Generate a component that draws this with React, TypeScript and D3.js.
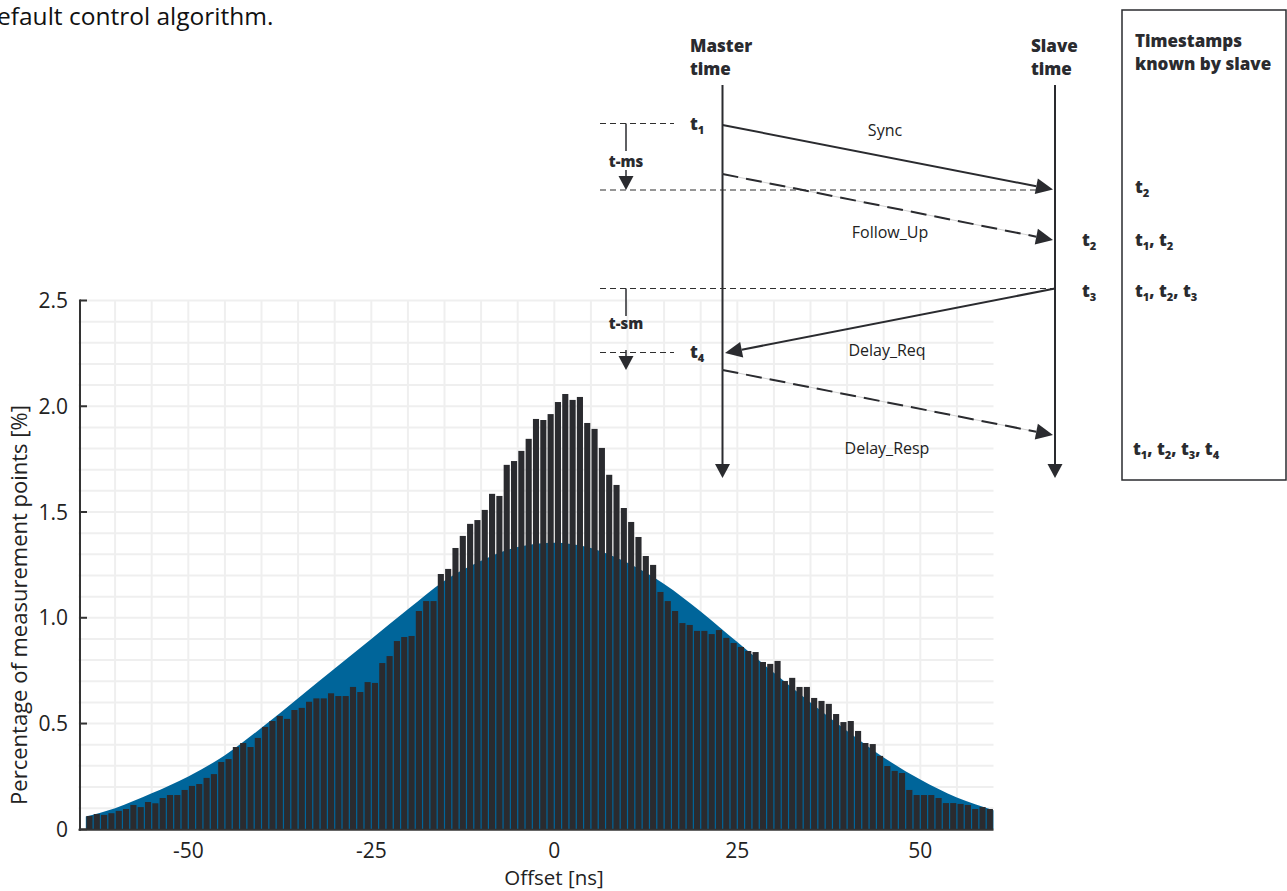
import React from "react";
import * as d3 from "d3";

// histogram: share of measurement points per 1 ns offset bin, bins start at -64 ns
const FIRST_BIN = -64;
const BAR_VALUES = [
  0.063, 0.072, 0.068, 0.076, 0.087, 0.096, 0.115, 0.105, 0.129, 0.123,
  0.148, 0.162, 0.162, 0.186, 0.205, 0.214, 0.243, 0.261, 0.318, 0.332,
  0.389, 0.408, 0.389, 0.432, 0.484, 0.512, 0.536, 0.522, 0.564, 0.574,
  0.603, 0.619, 0.619, 0.643, 0.63, 0.63, 0.673, 0.649, 0.696, 0.692,
  0.786, 0.819, 0.89, 0.909, 0.914, 1.032, 1.079, 1.079, 1.207, 1.231,
  1.33, 1.387, 1.444, 1.462, 1.51, 1.586, 1.576, 1.723, 1.741, 1.789,
  1.846, 1.94, 1.935, 1.963, 2.02, 2.058, 2.03, 2.044, 1.921, 1.893,
  1.803, 1.676, 1.628, 1.519, 1.453, 1.382, 1.292, 1.25, 1.122, 1.079,
  1.032, 0.975, 0.966, 0.938, 0.938, 0.923, 0.942, 0.905, 0.881, 0.862,
  0.843, 0.838, 0.791, 0.782, 0.796, 0.701, 0.716, 0.673, 0.673, 0.621,
  0.607, 0.593, 0.545, 0.507, 0.512, 0.465, 0.408, 0.403, 0.347, 0.299,
  0.276, 0.266, 0.186, 0.162, 0.162, 0.162, 0.148, 0.124, 0.124, 0.12,
  0.115, 0.096, 0.105, 0.096,
];

// fitted distribution (blue area)
const FIT_X = [-64, -60, -55, -50, -45, -40, -35, -30, -25, -20, -15, -10, -5, 0, 5, 10, 15, 20, 25, 30, 35, 40, 45, 50, 55, 60];
const FIT_Y = [0.06, 0.1, 0.17, 0.25, 0.35, 0.48, 0.62, 0.76, 0.9, 1.04, 1.175, 1.27, 1.335, 1.355, 1.33, 1.26, 1.16, 1.03, 0.885, 0.74, 0.6, 0.465, 0.34, 0.235, 0.15, 0.09];

const X_TICKS = [-50, -25, 0, 25, 50];
const Y_TICKS = [0, 0.5, 1, 1.5, 2, 2.5];
const Y_TICK_LABELS = ["0", "0.5", "1.0", "1.5", "2.0", "2.5"];
const X_LABEL = "Offset [ns]";
const Y_LABEL = "Percentage of measurement points [%]";

const W = 1287;
const H = 891;
const FONT = "'Open Sans', 'Noto Sans', sans-serif";
const INK = "#2a2b2f";
const BLUE = "#00659a";
const GRID = "#efefef";

function head(x1: number, y1: number, x2: number, y2: number, len = 17, half = 8) {
  const L = Math.hypot(x2 - x1, y2 - y1);
  const ux = (x2 - x1) / L;
  const uy = (y2 - y1) / L;
  const bx = x2 - ux * len;
  const by = y2 - uy * len;
  return {
    bx,
    by,
    pts: `${x2},${y2} ${bx - uy * half},${by + ux * half} ${bx + uy * half},${by - ux * half}`,
  };
}

function Msg({ x1, y1, x2, y2, dashed }: { x1: number; y1: number; x2: number; y2: number; dashed?: boolean }) {
  const h = head(x1, y1, x2, y2);
  return (
    <g>
      {dashed && <line x1={x1} y1={y1} x2={h.bx} y2={h.by} stroke="#c8c8c8" strokeWidth={0.8} />}
      <line
        x1={x1}
        y1={y1}
        x2={h.bx}
        y2={h.by}
        stroke={INK}
        strokeWidth={2}
        strokeDasharray={dashed ? "16 8" : undefined}
      />
      <polygon points={h.pts} fill={INK} />
    </g>
  );
}

// bold "t" with subscripts, e.g. t1, t2, t3
function TStamps({ x, y, subs }: { x: number; y: number; subs: number[] }) {
  return (
    <text x={x} y={y} fontFamily={FONT} fontWeight={800} fontSize={17} fill={INK}>
      {subs.map((s, i) => (
        <React.Fragment key={i}>
          <tspan dy={i === 0 ? 0 : -4}>{i === 0 ? "t" : ", t"}</tspan>
          <tspan dy={4} fontSize={11}>
            {s}
          </tspan>
        </React.Fragment>
      ))}
    </text>
  );
}

function DownArrow({ x, tip }: { x: number; tip: number }) {
  return <polygon points={`${x - 7.5},${tip - 14} ${x + 7.5},${tip - 14} ${x},${tip}`} fill={INK} />;
}

export default function App() {
  const x = d3.scaleLinear().domain([-65, 60]).range([78.5, 993.5]);
  const y = d3.scaleLinear().domain([0, 2.5]).range([829.3, 300.5]);

  const area = d3
    .area<number>()
    .x((_, i) => x(FIT_X[i]))
    .y0(y(0))
    .y1((d) => y(d))
    .curve(d3.curveMonotoneX);

  const vGrid = d3.range(-60, 60, 5);
  const hGrid = d3.range(1, 26).map((i) => i / 10);

  const mX = 722.5;
  const sX = 1055;

  return (
    <svg
      width={W}
      height={H}
      viewBox={`0 0 ${W} ${H}`}
      style={{ position: "absolute", left: 0, top: 0, background: "#fff" }}
    >
      <text x={-3} y={25} fontFamily={FONT} fontSize={24.5} fill="#111">
        efault control algorithm.
      </text>

      {/* grid */}
      <g stroke={GRID} strokeWidth={2}>
        {vGrid.map((v) => (
          <line key={"v" + v} x1={x(v)} x2={x(v)} y1={y(2.5)} y2={y(0)} />
        ))}
        {hGrid.map((v) => (
          <line key={"h" + v} x1={x(-65)} x2={x(60)} y1={y(v)} y2={y(v)} />
        ))}
      </g>

      {/* fitted distribution */}
      <path d={area(FIT_Y) || ""} fill={BLUE} />

      {/* histogram bars */}
      <g fill={INK}>
        {BAR_VALUES.map((v, i) => {
          const b = FIRST_BIN + i;
          return (
            <rect
              key={b}
              x={x(b) + 0.6}
              width={x(b + 1) - x(b) - 1.2}
              y={y(v)}
              height={y(0) - y(v)}
            />
          );
        })}
      </g>

      {/* axes */}
      <line x1={x(-65)} x2={x(60)} y1={y(0) + 0.5} y2={y(0) + 0.5} stroke="#333" strokeWidth={2} />
      <line x1={80} x2={80} y1={y(2.5) - 1} y2={y(0) + 1.5} stroke="#333" strokeWidth={2} />
      {Y_TICKS.map((t, i) => (
        <g key={t}>
          <line x1={80} x2={87} y1={y(t)} y2={y(t)} stroke="#333" strokeWidth={2} />
          <text x={68} y={y(t) + 7.5} textAnchor="end" fontFamily={FONT} fontSize={21} fill="#222">
            {Y_TICK_LABELS[i]}
          </text>
        </g>
      ))}
      {X_TICKS.map((t) => (
        <text key={t} x={x(t)} y={857.5} textAnchor="middle" fontFamily={FONT} fontSize={21} fill="#222">
          {t}
        </text>
      ))}
      <text x={554} y={884.5} textAnchor="middle" fontFamily={FONT} fontSize={20.5} fill="#222">
        {X_LABEL}
      </text>
      <text
        transform={`translate(27, 605) rotate(-90)`}
        textAnchor="middle"
        fontFamily={FONT}
        fontSize={22}
        fill="#222"
      >
        {Y_LABEL}
      </text>

      {/* PTP message diagram */}
      <g fontFamily={FONT} fill={INK}>
        <text x={690} y={52} fontWeight={800} fontSize={17}>Master</text>
        <text x={690} y={75} fontWeight={800} fontSize={17}>time</text>
        <text x={1031} y={52} fontWeight={800} fontSize={17}>Slave</text>
        <text x={1031} y={75} fontWeight={800} fontSize={17}>time</text>

        <line x1={mX} x2={mX} y1={85} y2={466} stroke={INK} strokeWidth={2} />
        <DownArrow x={mX} tip={478} />
        <line x1={sX} x2={sX} y1={85} y2={466} stroke={INK} strokeWidth={2} />
        <DownArrow x={sX} tip={478} />

        <g stroke="#2f2f2f" strokeWidth={1.2} strokeDasharray="6 4">
          <line x1={600} x2={674} y1={123.5} y2={123.5} />
          <line x1={600} x2={1040} y1={190} y2={190} />
          <line x1={600} x2={sX} y1={288.5} y2={288.5} />
          <line x1={600} x2={674} y1={352.5} y2={352.5} />
        </g>

        <line x1={626} x2={626} y1={123.5} y2={151} stroke={INK} strokeWidth={1.5} />
        <text x={626} y={167} textAnchor="middle" fontWeight={800} fontSize={15}>t-ms</text>
        <line x1={626} x2={626} y1={170} y2={178} stroke={INK} strokeWidth={1.5} />
        <DownArrow x={626} tip={190} />

        <line x1={626} x2={626} y1={288.5} y2={316} stroke={INK} strokeWidth={1.5} />
        <text x={626} y={329} textAnchor="middle" fontWeight={800} fontSize={15}>t-sm</text>
        <line x1={626} x2={626} y1={350} y2={357} stroke={INK} strokeWidth={1.5} />
        <DownArrow x={626} tip={370} />

        <TStamps x={690} y={130} subs={[1]} />
        <TStamps x={690} y={358} subs={[4]} />
        <TStamps x={1082} y={246} subs={[2]} />
        <TStamps x={1082} y={297} subs={[3]} />

        <Msg x1={mX} y1={125} x2={1053} y2={189.5} />
        <Msg x1={mX} y1={174} x2={1053} y2={240} dashed />
        <Msg x1={sX} y1={288.5} x2={725} y2={353} />
        <Msg x1={mX} y1={370} x2={1053} y2={435} dashed />

        <g fontSize={16} textAnchor="middle" fill="#222">
          <text x={885} y={136}>Sync</text>
          <text x={890} y={238}>Follow_Up</text>
          <text x={887} y={356}>Delay_Req</text>
          <text x={887} y={454}>Delay_Resp</text>
        </g>

        <rect x={1122} y={10} width={164} height={470} fill="none" stroke={INK} strokeWidth={1.5} />
        <text x={1135} y={47} fontWeight={800} fontSize={17}>Timestamps</text>
        <text x={1135} y={70} fontWeight={800} fontSize={17}>known by slave</text>
        <TStamps x={1135} y={193} subs={[2]} />
        <TStamps x={1135} y={246} subs={[1, 2]} />
        <TStamps x={1135} y={297} subs={[1, 2, 3]} />
        <TStamps x={1133} y={455} subs={[1, 2, 3, 4]} />
      </g>
    </svg>
  );
}
